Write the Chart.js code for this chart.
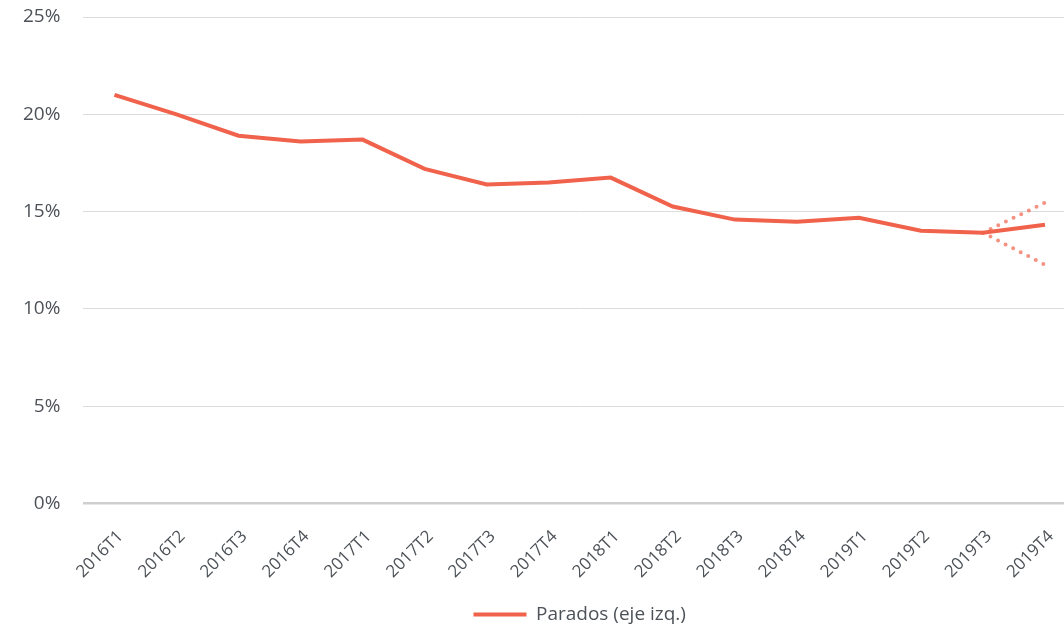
<!DOCTYPE html>
<html>
<head>
<meta charset="utf-8">
<script src="https://cdn.jsdelivr.net/npm/chart.js@4"></script>
<style>
  html, body { margin: 0; padding: 0; background: #fff; overflow: hidden; }
  #wrap { width: 1076px; height: 634px; }
</style>
</head>
<body>
<div id="wrap"><canvas id="chart"></canvas></div>
<script>
// trimestres
const quarters = ['2016T1', '2016T2', '2016T3', '2016T4', '2017T1', '2017T2', '2017T3', '2017T4',
                  '2018T1', '2018T2', '2018T3', '2018T4', '2019T1', '2019T2', '2019T3', '2019T4'];

// tasa de paro (%)
const parados = [21.0, 20.0, 18.9, 18.6, 18.7, 17.2, 16.4, 16.5,
                 16.75, 15.26, 14.59, 14.48, 14.69, 14.02, 13.92, 14.33];

// banda de previsión (punteada)
const upperBand = [null, null, null, null, null, null, null, null,
                   null, null, null, null, null, null, 13.92, 15.46];
const lowerBand = [null, null, null, null, null, null, null, null,
                   null, null, null, null, null, null, 13.92, 12.27];

const yTicks = [0, 5, 10, 15, 20, 25];

const mainColor = '#f0624b';
const dotColor = 'rgba(240, 98, 75, 0.7)';
const textColor = '#4d5258';

Chart.defaults.font.family = '"Open Sans", sans-serif';
Chart.defaults.color = textColor;

const ctx = document.getElementById('chart').getContext('2d');
new Chart(ctx, {
    type: 'line',
    data: {
        labels: quarters,
        datasets: [{
            label: 'Parados (eje izq.)',
            data: parados,
            borderColor: mainColor,
            backgroundColor: mainColor,
            borderWidth: 4,
            pointRadius: 0,
            tension: 0,
            order: 1
        }, {
            label: 'sup',
            data: upperBand,
            borderColor: dotColor,
            borderWidth: 4,
            borderDash: [0, 8.5],
            borderCapStyle: 'round',
            pointRadius: 0,
            order: 2
        }, {
            label: 'inf',
            data: lowerBand,
            borderColor: dotColor,
            borderWidth: 4,
            borderDash: [0, 8.5],
            borderCapStyle: 'round',
            pointRadius: 0,
            order: 2
        }]
    },
    options: {
        responsive: true,
        maintainAspectRatio: false,
        animation: false,
        layout: { padding: { top: 17, left: 0, right: 0, bottom: 0 } },
        scales: {
            x: {
                offset: true,
                grid: { display: false },
                border: { display: false },
                afterFit: axis => { axis.height += 3; },
                ticks: {
                    font: { size: 17 },
                    maxRotation: 45,
                    minRotation: 45,
                    padding: 15,
                    labelOffset: 6,
                    autoSkip: false
                }
            },
            y: {
                min: 0,
                max: 25,
                afterBuildTicks: axis => { axis.ticks = yTicks.map(v => ({ value: v })); },
                afterFit: axis => { axis.paddingTop = 0; },
                border: { display: false },
                grid: {
                    drawTicks: false,
                    color: c => c.tick && c.tick.value === 0 ? '#cfcfcf' : '#dcdcdc',
                    lineWidth: c => c.tick && c.tick.value === 0 ? 2.5 : 1
                },
                ticks: {
                    font: { size: 19 },
                    padding: 23,
                    callback: v => v + '%'
                }
            }
        },
        plugins: {
            legend: {
                position: 'bottom',
                fullSize: false,
                labels: {
                    font: { size: 19 },
                    boxWidth: 53,
                    boxHeight: 4,
                    padding: 5,
                    filter: item => item.datasetIndex === 0,
                    generateLabels: chart => [{
                        text: chart.data.datasets[0].label,
                        fillStyle: mainColor,
                        strokeStyle: mainColor,
                        lineWidth: 0,
                        datasetIndex: 0,
                        fontColor: textColor
                    }]
                }
            },
            tooltip: { enabled: false }
        }
    }
});
</script>
</body>
</html>
